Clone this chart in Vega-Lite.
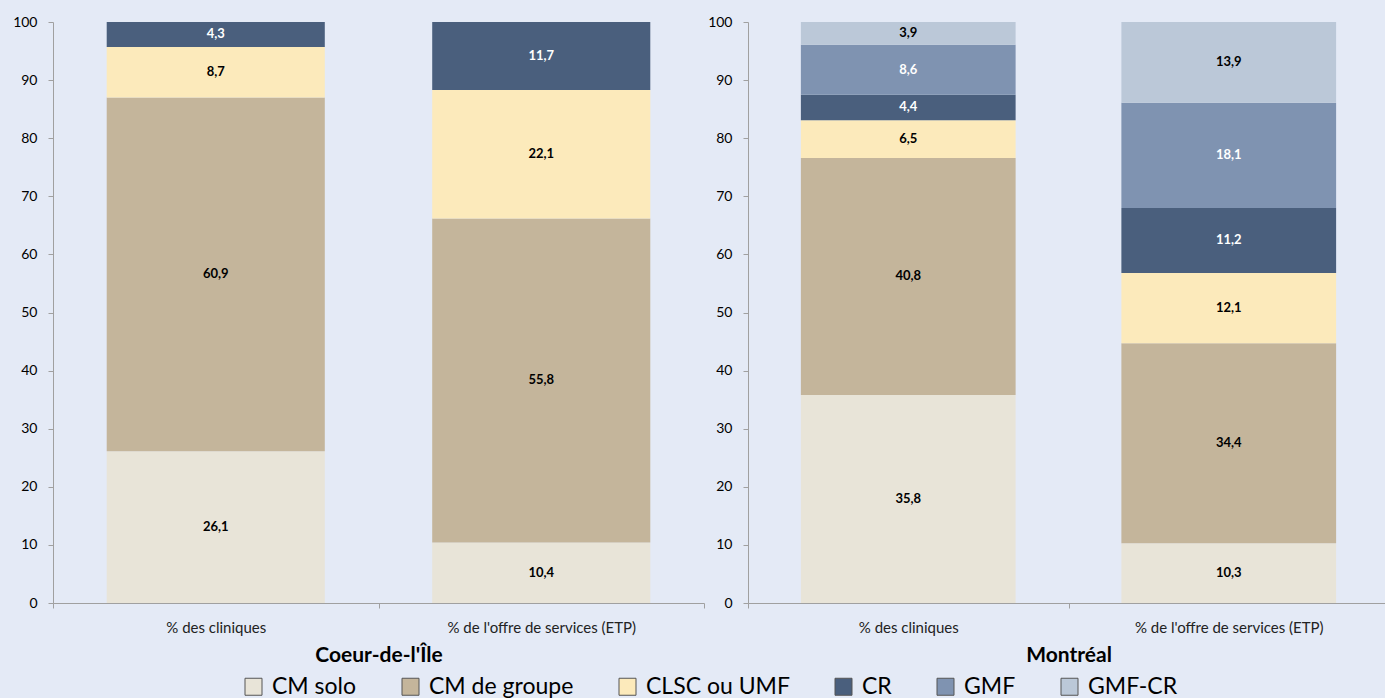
{
  "$schema": "https://vega.github.io/schema/vega-lite/v6.json",
  "background": "#E4EAF6",
  "padding": {"left": 12, "top": 15, "right": 0, "bottom": 0},
  "spacing": 2,
  "config": {"view": {"stroke": null}, "font": "Lato"},
  "datasets": {
    "coeur": [
      {"mesure": "% des cliniques", "cat": "CM solo", "ord": 1, "v": 26.1, "lab": "26,1"},
      {"mesure": "% des cliniques", "cat": "CM de groupe", "ord": 2, "v": 60.9, "lab": "60,9"},
      {"mesure": "% des cliniques", "cat": "CLSC ou UMF", "ord": 3, "v": 8.7, "lab": "8,7"},
      {"mesure": "% des cliniques", "cat": "CR", "ord": 4, "v": 4.3, "lab": "4,3"},
      {"mesure": "% de l'offre de services (ETP)", "cat": "CM solo", "ord": 1, "v": 10.4, "lab": "10,4"},
      {"mesure": "% de l'offre de services (ETP)", "cat": "CM de groupe", "ord": 2, "v": 55.8, "lab": "55,8"},
      {"mesure": "% de l'offre de services (ETP)", "cat": "CLSC ou UMF", "ord": 3, "v": 22.1, "lab": "22,1"},
      {"mesure": "% de l'offre de services (ETP)", "cat": "CR", "ord": 4, "v": 11.7, "lab": "11,7"}
    ],
    "mtl": [
      {"mesure": "% des cliniques", "cat": "CM solo", "ord": 1, "v": 35.8, "lab": "35,8"},
      {"mesure": "% des cliniques", "cat": "CM de groupe", "ord": 2, "v": 40.8, "lab": "40,8"},
      {"mesure": "% des cliniques", "cat": "CLSC ou UMF", "ord": 3, "v": 6.5, "lab": "6,5"},
      {"mesure": "% des cliniques", "cat": "CR", "ord": 4, "v": 4.4, "lab": "4,4"},
      {"mesure": "% des cliniques", "cat": "GMF", "ord": 5, "v": 8.6, "lab": "8,6"},
      {"mesure": "% des cliniques", "cat": "GMF-CR", "ord": 6, "v": 3.9, "lab": "3,9"},
      {"mesure": "% de l'offre de services (ETP)", "cat": "CM solo", "ord": 1, "v": 10.3, "lab": "10,3"},
      {"mesure": "% de l'offre de services (ETP)", "cat": "CM de groupe", "ord": 2, "v": 34.4, "lab": "34,4"},
      {"mesure": "% de l'offre de services (ETP)", "cat": "CLSC ou UMF", "ord": 3, "v": 12.1, "lab": "12,1"},
      {"mesure": "% de l'offre de services (ETP)", "cat": "CR", "ord": 4, "v": 11.2, "lab": "11,2"},
      {"mesure": "% de l'offre de services (ETP)", "cat": "GMF", "ord": 5, "v": 18.1, "lab": "18,1"},
      {"mesure": "% de l'offre de services (ETP)", "cat": "GMF-CR", "ord": 6, "v": 13.9, "lab": "13,9"}
    ]
  },
  "hconcat": [
    {
      "width": 651,
      "height": 581,
      "data": {"name": "coeur"},
      "layer": [
        {
          "mark": {"type": "bar", "width": {"band": 0.67}},
          "encoding": {
            "x": {"field": "mesure", "type": "nominal", "sort": null,
              "scale": {"paddingInner": 0, "paddingOuter": 0},
              "axis": {"title": "Coeur-de-l'Île", "labelAngle": 0, "labelLimit": 0, "tickBand": "extent", "tickSize": 5, "domainColor": "#A0A0A0", "tickColor": "#A0A0A0", "labelFontSize": 15, "labelPadding": 12, "labelColor": "#222222", "labelFont": "Lato", "titleFont": "Lato", "titleFontSize": 21, "titleFontWeight": "bold", "titleColor": "#000000", "titlePadding": 9}},
            "y": {"field": "v", "type": "quantitative", "stack": "zero",
              "scale": {"domain": [0, 100]},
              "axis": {"title": null, "values": [0, 10, 20, 30, 40, 50, 60, 70, 80, 90, 100], "grid": false, "domainColor": "#A0A0A0", "tickColor": "#A0A0A0", "tickSize": 5, "labelFontSize": 14, "labelFont": "Lato", "labelColor": "#000000", "labelPadding": 11}},
            "color": {"field": "cat", "type": "nominal",
              "sort": ["CM solo", "CM de groupe", "CLSC ou UMF", "CR", "GMF", "GMF-CR"],
              "scale": {"domain": ["CM solo", "CM de groupe", "CLSC ou UMF", "CR", "GMF", "GMF-CR"], "range": ["#E8E4D8", "#C4B59B", "#FCEABB", "#4A5F7D", "#7F93B1", "#BBC8D8"]},
              "legend": {"orient": "none", "legendX": 189, "legendY": 653, "direction": "horizontal", "title": null, "symbolType": "square", "symbolSize": 289, "symbolStrokeColor": "#555555", "symbolStrokeWidth": 1, "labelFontSize": 23, "labelFont": "Lato", "labelColor": "#000000", "labelOffset": 7, "columnPadding": 42, "labelLimit": 0}},
            "order": {"field": "ord", "type": "quantitative"}
          }
        },
        {
          "mark": {"type": "text", "fontWeight": "bold", "fontSize": 13, "font": "Lato"},
          "encoding": {
            "x": {"field": "mesure", "type": "nominal", "sort": null},
            "y": {"field": "v", "type": "quantitative", "stack": "zero", "bandPosition": 0.5},
            "detail": {"field": "cat"},
            "order": {"field": "ord", "type": "quantitative"},
            "text": {"field": "lab"},
            "color": {"condition": {"test": "datum.cat === 'CR' || datum.cat === 'GMF'", "value": "#FFFFFF"}, "value": "#000000"}
          }
        }
      ]
    },
    {
      "width": 641,
      "height": 581,
      "data": {"name": "mtl"},
      "layer": [
        {
          "mark": {"type": "bar", "width": {"band": 0.67}},
          "encoding": {
            "x": {"field": "mesure", "type": "nominal", "sort": null,
              "scale": {"paddingInner": 0, "paddingOuter": 0},
              "axis": {"title": "Montréal", "labelAngle": 0, "labelLimit": 0, "tickBand": "extent", "tickSize": 5, "domainColor": "#A0A0A0", "tickColor": "#A0A0A0", "labelFontSize": 15, "labelPadding": 12, "labelColor": "#222222", "labelFont": "Lato", "titleFont": "Lato", "titleFontSize": 21, "titleFontWeight": "bold", "titleColor": "#000000", "titlePadding": 9}},
            "y": {"field": "v", "type": "quantitative", "stack": "zero",
              "scale": {"domain": [0, 100]},
              "axis": {"title": null, "values": [0, 10, 20, 30, 40, 50, 60, 70, 80, 90, 100], "grid": false, "domainColor": "#A0A0A0", "tickColor": "#A0A0A0", "tickSize": 5, "labelFontSize": 14, "labelFont": "Lato", "labelColor": "#000000", "labelPadding": 11}},
            "color": {"field": "cat", "type": "nominal",
              "sort": ["CM solo", "CM de groupe", "CLSC ou UMF", "CR", "GMF", "GMF-CR"],
              "scale": {"domain": ["CM solo", "CM de groupe", "CLSC ou UMF", "CR", "GMF", "GMF-CR"], "range": ["#E8E4D8", "#C4B59B", "#FCEABB", "#4A5F7D", "#7F93B1", "#BBC8D8"]},
              "legend": {"orient": "none", "legendX": 189, "legendY": 653, "direction": "horizontal", "title": null, "symbolType": "square", "symbolSize": 289, "symbolStrokeColor": "#555555", "symbolStrokeWidth": 1, "labelFontSize": 23, "labelFont": "Lato", "labelColor": "#000000", "labelOffset": 7, "columnPadding": 42, "labelLimit": 0}},
            "order": {"field": "ord", "type": "quantitative"}
          }
        },
        {
          "mark": {"type": "text", "fontWeight": "bold", "fontSize": 13, "font": "Lato"},
          "encoding": {
            "x": {"field": "mesure", "type": "nominal", "sort": null},
            "y": {"field": "v", "type": "quantitative", "stack": "zero", "bandPosition": 0.5},
            "detail": {"field": "cat"},
            "order": {"field": "ord", "type": "quantitative"},
            "text": {"field": "lab"},
            "color": {"condition": {"test": "datum.cat === 'CR' || datum.cat === 'GMF'", "value": "#FFFFFF"}, "value": "#000000"}
          }
        }
      ]
    }
  ]
}
